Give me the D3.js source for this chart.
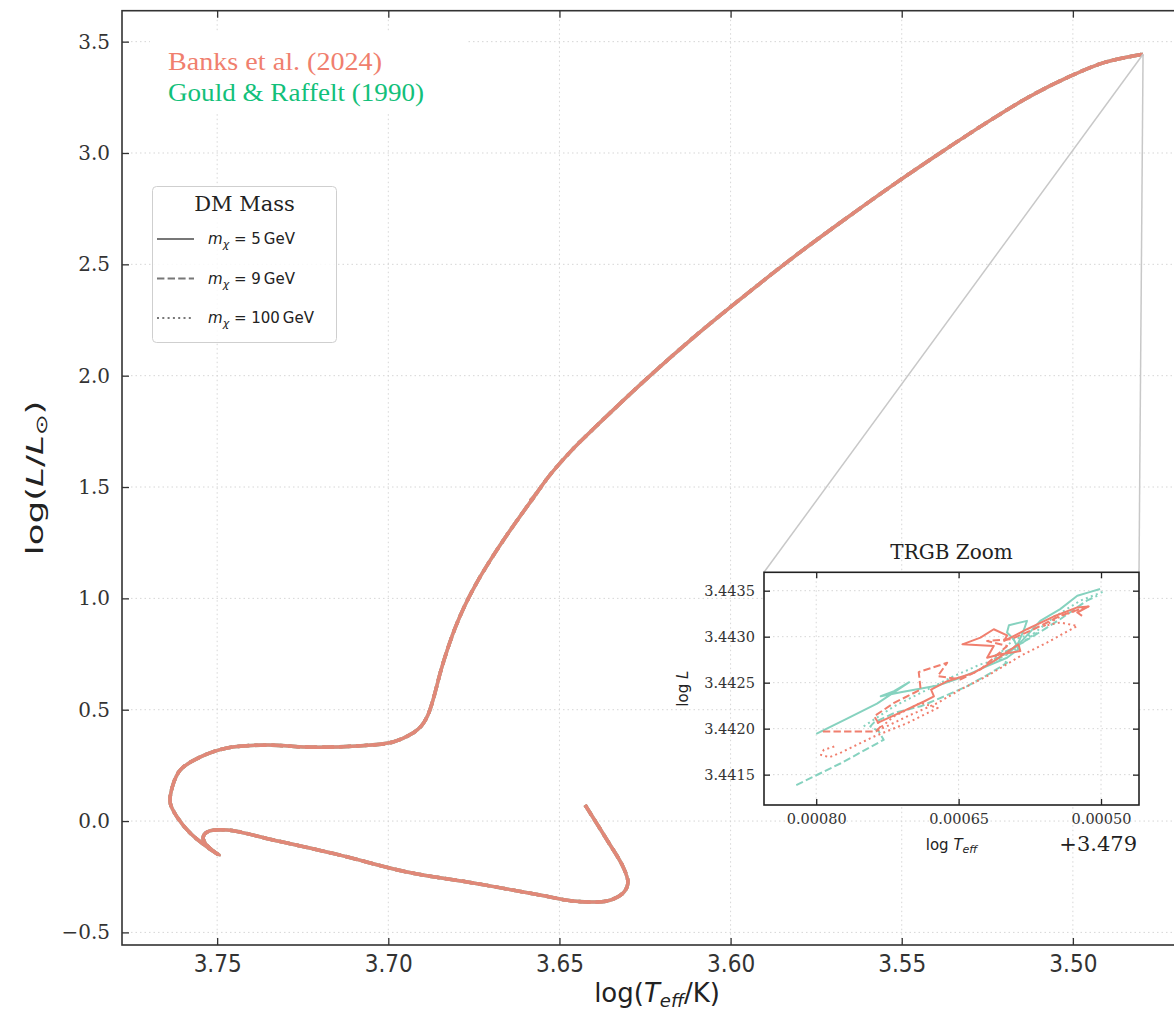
<!DOCTYPE html>
<html><head><meta charset="utf-8">
<script src="https://cdn.jsdelivr.net/npm/d3@7"></script>
<style>body{margin:0;background:#fff;} svg{display:block;}</style>
</head><body><svg id="c" width="1174" height="1014"></svg>
<script>
// ---------------- DATA ----------------
// Main evolutionary track (all six models overlap at this scale)
const trackLogTeff = [3.6425,3.6361,3.6314,3.6300,3.6314,3.6361,3.6460,3.6557,3.6752,3.6945,3.7141,3.7336,3.7471,3.7529,3.7541,3.7535,3.7515,3.7494,3.7529,3.7579,3.7617,3.7637,3.7631,3.7608,3.7550,3.7471,3.7354,3.7237,3.7091,3.6986,3.6928,3.6904,3.6887,3.6872,3.6860,3.6846,3.6828,3.6805,3.6776,3.6741,3.6700,3.6650,3.6592,3.6574,3.6584,3.6566,3.6533,3.6463,3.6390,3.6244,3.6101,3.5956,3.5812,3.5669,3.5523,3.5380,3.5237,3.5126,3.5006,3.4907,3.4795];
const trackLogL   = [0.072,-0.085,-0.206,-0.278,-0.323,-0.359,-0.359,-0.332,-0.278,-0.229,-0.153,-0.085,-0.040,-0.049,-0.072,-0.099,-0.130,-0.153,-0.117,-0.054,0.018,0.081,0.153,0.229,0.287,0.328,0.341,0.332,0.337,0.355,0.395,0.426,0.467,0.530,0.597,0.678,0.767,0.866,0.969,1.072,1.176,1.292,1.418,1.456,1.440,1.474,1.544,1.667,1.777,1.988,2.181,2.363,2.537,2.699,2.859,3.008,3.151,3.254,3.346,3.407,3.4434];

// TRGB zoom series: [logTeff, logL]
const gould5 = [[3.479800,3.441944],[3.479767,3.442112],[3.479736,3.442272],[3.479702,3.442505],[3.479718,3.442407],[3.479732,3.442352],[3.479711,3.442396],[3.479672,3.442469],[3.479648,3.442553],[3.479620,3.442680],[3.479599,3.442771],[3.479587,3.442863],[3.479592,3.442972],[3.479599,3.443045],[3.479597,3.443125],[3.479578,3.443172],[3.479581,3.443081],[3.479587,3.442935],[3.479599,3.442808],[3.479585,3.442935],[3.479564,3.443172],[3.479543,3.443300],[3.479525,3.443445],[3.479513,3.443482],[3.479501,3.443518]];
const gould9 = [[3.479821,3.441387],[3.479774,3.441624],[3.479729,3.441879],[3.479734,3.441970],[3.479743,3.442025],[3.479739,3.442068],[3.479718,3.442170],[3.479690,3.442243],[3.479665,3.442352],[3.479641,3.442462],[3.479616,3.442607],[3.479599,3.442717],[3.479613,3.442790],[3.479595,3.442863],[3.479571,3.443008],[3.479543,3.443190],[3.479515,3.443391],[3.479504,3.443445]];
const gould100 = [[3.479750,3.442025],[3.479718,3.442243],[3.479683,3.442425],[3.479655,3.442571],[3.479627,3.442699],[3.479613,3.442735],[3.479595,3.442826],[3.479578,3.442972],[3.479567,3.443045],[3.479592,3.442972],[3.479616,3.442717],[3.479585,3.442917],[3.479550,3.443209],[3.479522,3.443391],[3.479495,3.443500]];
const banks5 = [[3.479736,3.442061],[3.479711,3.442178],[3.479686,3.442298],[3.479676,3.442352],[3.479679,3.442425],[3.479662,3.442516],[3.479634,3.442607],[3.479613,3.442735],[3.479587,3.442917],[3.479585,3.442844],[3.479606,3.442808],[3.479620,3.442771],[3.479613,3.442899],[3.479646,3.442917],[3.479627,3.442990],[3.479613,3.443081],[3.479599,3.443015],[3.479602,3.442954],[3.479578,3.443081],[3.479550,3.443219],[3.479525,3.443318],[3.479513,3.443329],[3.479525,3.443263],[3.479520,3.443227]];
const banks9 = [[3.479793,3.441970],[3.479737,3.441970],[3.479732,3.442025],[3.479739,3.442134],[3.479718,3.442280],[3.479690,3.442425],[3.479692,3.442615],[3.479662,3.442717],[3.479672,3.442571],[3.479648,3.442535],[3.479627,3.442644],[3.479613,3.442771],[3.479599,3.442899],[3.479620,3.442954],[3.479595,3.442972],[3.479571,3.443081],[3.479543,3.443227],[3.479522,3.443300],[3.479511,3.443336]];
const banks100 = [[3.479781,3.441806],[3.479792,3.441770],[3.479795,3.441715],[3.479786,3.441689],[3.479774,3.441740],[3.479739,3.441915],[3.479704,3.442061],[3.479672,3.442225],[3.479690,3.442280],[3.479718,3.442134],[3.479737,3.441970],[3.479704,3.442134],[3.479672,3.442280],[3.479648,3.442425],[3.479620,3.442571],[3.479585,3.442790],[3.479557,3.442935],[3.479525,3.443117],[3.479543,3.443154],[3.479560,3.443117],[3.479543,3.443219],[3.479515,3.443329]];

const xTicks = [3.75,3.70,3.65,3.60,3.55,3.50];
const xTickLabels = ["3.75","3.70","3.65","3.60","3.55","3.50"];
const yTicks = [-0.5,0.0,0.5,1.0,1.5,2.0,2.5,3.0,3.5];
const yTickLabels = ["\u22120.5","0.0","0.5","1.0","1.5","2.0","2.5","3.0","3.5"];
const insetXTicks = [3.4798,3.47965,3.4795];
const insetXTickLabels = ["0.00080","0.00065","0.00050"];
const insetYTicks = [3.4415,3.4420,3.4425,3.4430,3.4435];
const insetYTickLabels = ["3.4415","3.4420","3.4425","3.4430","3.4435"];
const massLabels = ["5","9","100"];
const modelNames = ["Banks et al. (2024)","Gould & Raffelt (1990)"];

// ---------------- STYLE ----------------
const SALMON = "#f07f6e", TRACK = "#e08878", TEAL = "#86d2bf", GREEN = "#12c07a";
const dashes = [null, "7.4,3.2", "2,3.3"];
const GRID = "#d6d6d6";

const svg = d3.select("#c");
const defs = svg.append("defs");
const ax = {left:122, right:1192, top:10.7, bottom:945};
const x = d3.scaleLinear().domain([3.7778,3.4652]).range([ax.left, ax.right]);
const y = d3.scaleLinear().domain([-0.5566,3.639]).range([ax.bottom, ax.top]);

defs.append("clipPath").attr("id","mclip").append("rect")
  .attr("x",ax.left).attr("y",ax.top).attr("width",ax.right-ax.left).attr("height",ax.bottom-ax.top);

// grid
const grid = svg.append("g").attr("clip-path","url(#mclip)");
grid.selectAll("line.gx").data(xTicks).join("line")
  .attr("x1",d=>x(d)).attr("x2",d=>x(d)).attr("y1",ax.top).attr("y2",ax.bottom)
  .attr("stroke",GRID).attr("stroke-width",1).attr("stroke-dasharray","1.5,3");
grid.selectAll("line.gy").data(yTicks).join("line")
  .attr("x1",ax.left).attr("x2",ax.right).attr("y1",d=>y(d)).attr("y2",d=>y(d))
  .attr("stroke",GRID).attr("stroke-width",1).attr("stroke-dasharray","1.5,3");

// white box behind model annotation
svg.append("rect").attr("x",150).attr("y",33).attr("width",318).attr("height",80).attr("fill","#fff");

// main tracks
const track = trackLogTeff.map((t,i)=>[t,trackLogL[i]]);
const lineMain = d3.line().x(d=>x(d[0])).y(d=>y(d[1])).curve(d3.curveCatmullRom.alpha(0.5));
const mg = svg.append("g").attr("clip-path","url(#mclip)");
[TEAL, TRACK].forEach(col=>{
  [2,1,0].forEach(k=>{
    mg.append("path").attr("d",lineMain(track)).attr("fill","none")
      .attr("stroke",col).attr("stroke-width",3.5)
      .attr("stroke-dasharray",dashes[k] ? dashes[k].split(",").map(v=>v*1.6).join(",") : null)
      .attr("stroke-linecap","butt").attr("stroke-linejoin","round");
  });
});

// axes (ticks inward)
const fmt = (arr, lab) => d => lab[arr.indexOf(d)];
const gB = svg.append("g").attr("transform",`translate(0,${ax.bottom})`)
  .call(d3.axisBottom(x).tickValues(xTicks).tickFormat(fmt(xTicks,xTickLabels)).tickSizeInner(-7).tickSizeOuter(0).tickPadding(10));
gB.select(".domain").remove();
gB.selectAll("text").attr("font-family","'DejaVu Sans Condensed','DejaVu Sans',sans-serif").attr("font-stretch","condensed").attr("font-size",24).attr("fill","#333");
const gT = svg.append("g").attr("transform",`translate(0,${ax.top})`)
  .call(d3.axisTop(x).tickValues(xTicks).tickFormat("").tickSizeInner(-7).tickSizeOuter(0));
gT.select(".domain").remove();
const gL = svg.append("g").attr("transform",`translate(${ax.left},0)`)
  .call(d3.axisLeft(y).tickValues(yTicks).tickFormat(fmt(yTicks,yTickLabels)).tickSizeInner(-7).tickSizeOuter(0).tickPadding(12));
gL.select(".domain").remove();
gL.selectAll("text").attr("font-family","'DejaVu Serif',serif").attr("font-size",20).attr("fill","#333");
[gB,gT,gL].forEach(g=>g.selectAll(".tick line").attr("stroke","#333").attr("stroke-width",1.3));

// frame
svg.append("rect").attr("x",ax.left).attr("y",ax.top).attr("width",ax.right-ax.left).attr("height",ax.bottom-ax.top)
  .attr("fill","none").attr("stroke","#333").attr("stroke-width",1.6);

// axis labels
const xl = svg.append("text").attr("x",(ax.left+ax.right)/2).attr("y",1002).attr("text-anchor","middle")
  .attr("font-family","'DejaVu Sans',sans-serif").attr("font-size",26).attr("fill","#222");
xl.append("tspan").text("log(");
xl.append("tspan").attr("font-style","italic").text("T");
xl.append("tspan").attr("font-style","italic").attr("font-size",18).attr("dy",5).text("eff");
xl.append("tspan").attr("dy",-5).text("/K)");

const yl = svg.append("text").attr("transform",`translate(43,${(ax.top+ax.bottom)/2}) rotate(-90) scale(1.55,1)`).attr("text-anchor","middle")
  .attr("font-family","'DejaVu Sans',sans-serif").attr("font-size",23).attr("fill","#222");
yl.append("tspan").text("log(");
yl.append("tspan").attr("font-style","italic").text("L");
yl.append("tspan").text("/");
yl.append("tspan").attr("font-style","italic").text("L");
yl.append("tspan").attr("font-size",16).attr("dy",4).text("\u2299");
yl.append("tspan").attr("dy",-4).text(")");

// model annotations
svg.append("text").attr("x",168).attr("y",70).attr("font-family","'Liberation Serif',serif").attr("font-size",25)
  .attr("fill",SALMON).attr("textLength",214).attr("lengthAdjust","spacingAndGlyphs").text(modelNames[0]);
svg.append("text").attr("x",168).attr("y",101).attr("font-family","'Liberation Serif',serif").attr("font-size",25)
  .attr("fill",GREEN).attr("textLength",256).attr("lengthAdjust","spacingAndGlyphs").text(modelNames[1]);

// DM Mass legend
const lg = svg.append("g");
lg.append("rect").attr("x",152.5).attr("y",186.5).attr("width",184).attr("height",156).attr("rx",4)
  .attr("fill","#fff").attr("fill-opacity",0.85).attr("stroke","#cfcfcf").attr("stroke-width",1);
lg.append("text").attr("x",244.5).attr("y",211).attr("text-anchor","middle").attr("font-family","'DejaVu Serif',serif")
  .attr("font-size",21).attr("fill","#222").text("DM Mass");
massLabels.forEach((m,i)=>{
  const yy = 239 + i*39.5;
  lg.append("line").attr("x1",157).attr("x2",194).attr("y1",yy).attr("y2",yy)
    .attr("stroke","#777").attr("stroke-width",2).attr("stroke-dasharray",dashes[i]);
  const t = lg.append("text").attr("x",208).attr("y",yy+5).attr("font-family","'DejaVu Sans',sans-serif")
    .attr("font-size",15).attr("fill","#222");
  t.append("tspan").attr("font-style","italic").text("m");
  t.append("tspan").attr("font-style","italic").attr("font-size",11).attr("dy",4).text("\u03c7");
  t.append("tspan").attr("dy",-4).text(" = " + m + "\u2009GeV");
});

// ---------------- INSET ----------------
const ib = {left:764, right:1139, top:572.3, bottom:805};
const ix = d3.scaleLinear().domain([3.479855,3.47946]).range([ib.left, ib.right]);
const iy = d3.scaleLinear().domain([3.44117,3.4437]).range([ib.bottom, ib.top]);

// connector lines
const tip = track[track.length-1];
svg.append("line").attr("x1",x(tip[0])).attr("y1",y(tip[1])).attr("x2",ib.left).attr("y2",ib.top)
  .attr("stroke","#c8c8c8").attr("stroke-width",1.5);
svg.append("line").attr("x1",x(tip[0])).attr("y1",y(tip[1])).attr("x2",ib.right).attr("y2",ib.top)
  .attr("stroke","#c8c8c8").attr("stroke-width",1.5);

svg.append("rect").attr("x",ib.left).attr("y",ib.top).attr("width",ib.right-ib.left).attr("height",ib.bottom-ib.top).attr("fill","#fff");
defs.append("clipPath").attr("id","iclip").append("rect")
  .attr("x",ib.left).attr("y",ib.top).attr("width",ib.right-ib.left).attr("height",ib.bottom-ib.top);
const ig = svg.append("g");
ig.selectAll("line.igx").data(insetXTicks).join("line")
  .attr("x1",d=>ix(d)).attr("x2",d=>ix(d)).attr("y1",ib.top).attr("y2",ib.bottom)
  .attr("stroke",GRID).attr("stroke-dasharray","1.5,3");
ig.selectAll("line.igy").data(insetYTicks).join("line")
  .attr("x1",ib.left).attr("x2",ib.right).attr("y1",d=>iy(d)).attr("y2",d=>iy(d))
  .attr("stroke",GRID).attr("stroke-dasharray","1.5,3");

const lineIn = d3.line().x(d=>ix(d[0])).y(d=>iy(d[1]));
const il = svg.append("g").attr("clip-path","url(#iclip)");
[[gould5,0],[gould9,1],[gould100,2]].forEach(([s,k])=>{
  il.append("path").attr("d",lineIn(s)).attr("fill","none").attr("stroke",TEAL).attr("stroke-width",2)
    .attr("stroke-dasharray",dashes[k]).attr("stroke-linejoin","round");
});
[[banks5,0],[banks9,1],[banks100,2]].forEach(([s,k])=>{
  il.append("path").attr("d",lineIn(s)).attr("fill","none").attr("stroke",SALMON).attr("stroke-width",2)
    .attr("stroke-dasharray",dashes[k]).attr("stroke-linejoin","round");
});

const iB = svg.append("g").attr("transform",`translate(0,${ib.bottom})`)
  .call(d3.axisBottom(ix).tickValues(insetXTicks).tickFormat(fmt(insetXTicks,insetXTickLabels)).tickSizeInner(-6).tickSizeOuter(0).tickPadding(9));
const iT = svg.append("g").attr("transform",`translate(0,${ib.top})`)
  .call(d3.axisTop(ix).tickValues(insetXTicks).tickFormat("").tickSizeInner(-6).tickSizeOuter(0));
const iL = svg.append("g").attr("transform",`translate(${ib.left},0)`)
  .call(d3.axisLeft(iy).tickValues(insetYTicks).tickFormat(fmt(insetYTicks,insetYTickLabels)).tickSizeInner(-6).tickSizeOuter(0).tickPadding(9));
const iR = svg.append("g").attr("transform",`translate(${ib.right},0)`)
  .call(d3.axisRight(iy).tickValues(insetYTicks).tickFormat("").tickSizeInner(-6).tickSizeOuter(0));
[iB,iT,iL,iR].forEach(g=>{ g.select(".domain").remove(); g.selectAll(".tick line").attr("stroke","#222").attr("stroke-width",1.3); });
[iB,iL].forEach(g=>g.selectAll("text").attr("font-family","'DejaVu Serif',serif").attr("font-size",14.5).attr("fill","#333"));
svg.append("rect").attr("x",ib.left).attr("y",ib.top).attr("width",ib.right-ib.left).attr("height",ib.bottom-ib.top)
  .attr("fill","none").attr("stroke","#222").attr("stroke-width",1.6);

svg.append("text").attr("x",(ib.left+ib.right)/2).attr("y",559).attr("text-anchor","middle")
  .attr("font-family","'DejaVu Serif',serif").attr("font-size",20).attr("fill","#222").text("TRGB Zoom");
const ixl = svg.append("text").attr("x",(ib.left+ib.right)/2).attr("y",850).attr("text-anchor","middle")
  .attr("font-family","'DejaVu Sans',sans-serif").attr("font-size",15).attr("fill","#222");
ixl.append("tspan").text("log ");
ixl.append("tspan").attr("font-style","italic").text("T");
ixl.append("tspan").attr("font-style","italic").attr("font-size",11).attr("dy",3).text("eff");
svg.append("text").attr("x",1137).attr("y",851).attr("text-anchor","end")
  .attr("font-family","'DejaVu Serif',serif").attr("font-size",21).attr("fill","#222").text("+3.479");
const iyl = svg.append("text").attr("transform",`translate(688,${(ib.top+ib.bottom)/2}) rotate(-90)`).attr("text-anchor","middle")
  .attr("font-family","'DejaVu Sans',sans-serif").attr("font-size",15).attr("fill","#222");
iyl.append("tspan").text("log ");
iyl.append("tspan").attr("font-style","italic").text("L");
</script>
</body></html>
